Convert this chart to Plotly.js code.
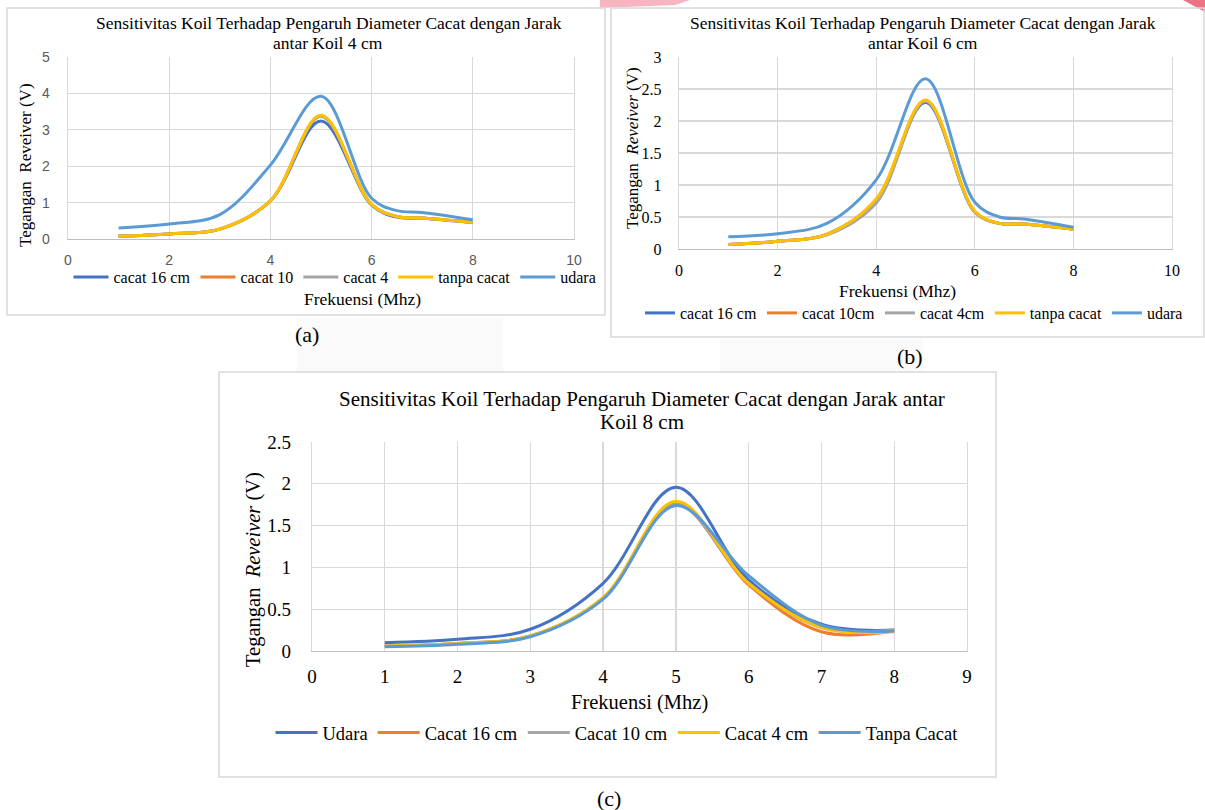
<!DOCTYPE html>
<html><head><meta charset="utf-8">
<script src="https://cdn.plot.ly/plotly-3.0.1.min.js"></script>
<style>html,body{margin:0;padding:0;background:#fff}#chart{width:1205px;height:810px}</style>
</head><body><div id="chart"></div>
<script>
// Frequency points (MHz)
const freq_ab = [1,2,3,4,5,6,6.5,7,8];
const freq_c  = [1,2,3,4,5,6,7,8];

// (a) Jarak antar koil 4 cm
const a_cacat16 = [0.08,0.14,0.27,1.05,3.24,0.93,0.60,0.57,0.45];
const a_cacat10 = [0.08,0.14,0.27,1.05,3.38,0.95,0.62,0.58,0.46];
const a_cacat4  = [0.08,0.14,0.27,1.04,3.37,0.94,0.62,0.58,0.46];
const a_tanpa   = [0.08,0.14,0.27,1.05,3.40,0.95,0.62,0.58,0.46];
const a_udara   = [0.30,0.41,0.67,2.03,3.92,1.12,0.78,0.73,0.53];
const a_names   = ['cacat 16 cm','cacat 10','cacat 4','tanpa cacat','udara'];

// (b) Jarak antar koil 6 cm
const b_cacat16 = [0.07,0.12,0.23,0.76,2.29,0.58,0.40,0.39,0.31];
const b_cacat10 = [0.07,0.12,0.23,0.77,2.32,0.58,0.40,0.39,0.31];
const b_cacat4  = [0.07,0.12,0.22,0.72,2.31,0.58,0.40,0.39,0.31];
const b_tanpa   = [0.07,0.12,0.23,0.78,2.33,0.59,0.40,0.39,0.31];
const b_udara   = [0.19,0.24,0.40,1.08,2.66,0.73,0.50,0.47,0.34];
const b_names   = ['cacat 16 cm','cacat 10cm','cacat 4cm','tanpa cacat','udara'];

// (c) Jarak antar koil 8 cm
const c_udara   = [0.10,0.14,0.26,0.81,1.96,0.85,0.32,0.25];
const c_cacat16 = [0.06,0.09,0.18,0.63,1.76,0.79,0.23,0.24];
const c_cacat10 = [0.06,0.09,0.18,0.63,1.75,0.81,0.28,0.25];
const c_cacat4  = [0.06,0.09,0.18,0.64,1.79,0.81,0.28,0.23];
const c_tanpa   = [0.05,0.08,0.17,0.62,1.74,0.90,0.31,0.24];
const c_names   = ['Udara','Cacat 16 cm','Cacat 10 cm','Cacat 4 cm','Tanpa Cacat'];

const colors = ['#4472C4','#ED7D31','#A5A5A5','#FFC000','#5B9BD5'];

const W = 1205, H = 810;
const X = p => p / W, Y = p => 1 - p / H;
const serif = '"Liberation Serif","Times New Roman",serif';
const sans = '"Liberation Sans",Arial,sans-serif';

function mk(xs, y, name, color, n, leg) {
  return {x: xs, y: y, name: name, type: 'scatter', mode: 'lines',
    line: {color: color, width: 3, shape: 'spline', smoothing: 1},
    xaxis: 'x' + n, yaxis: 'y' + n, legend: leg, hoverinfo: 'skip'};
}
const traces = [];
[a_cacat16,a_cacat10,a_cacat4,a_tanpa,a_udara].forEach((s,i)=>traces.push(mk(freq_ab,s,a_names[i],colors[i],'','legend')));
[b_cacat16,b_cacat10,b_cacat4,b_tanpa,b_udara].forEach((s,i)=>traces.push(mk(freq_ab,s,b_names[i],colors[i],'2','legend2')));
[c_udara,c_cacat16,c_cacat10,c_cacat4,c_tanpa].forEach((s,i)=>traces.push(mk(freq_c,s,c_names[i],colors[i],'3','legend3')));

const grid = '#D9D9D9';
function xax(dom, anchor, range, dtick, font, standoff) {
  return {domain: dom, anchor: anchor, range: range, dtick: dtick, tick0: 0,
    showgrid: true, gridcolor: grid, gridwidth: 1.3, zeroline: false,
    showline: true, linecolor: '#BFBFBF', linewidth: 1.3, ticks: '',
    tickfont: font, ticklabelstandoff: standoff, fixedrange: true};
}
function yax(dom, anchor, range, dtick, font, standoff) {
  return {domain: dom, anchor: anchor, range: range, dtick: dtick, tick0: 0,
    showgrid: true, gridcolor: grid, gridwidth: 1.3, zeroline: false,
    showline: true, mirror: true, linecolor: grid, linewidth: 1.3, ticks: '',
    tickfont: font, ticklabelstandoff: standoff, fixedrange: true};
}

function ann(text, x, y, size, extra) {
  return Object.assign({text: text, x: X(x), y: Y(y), xref: 'paper', yref: 'paper',
    showarrow: false, xanchor: 'center', yanchor: 'middle',
    font: {family: serif, size: size, color: '#000'}}, extra || {});
}

const annotations = [
  // (a)
  ann('Sensitivitas Koil Terhadap Pengaruh Diameter Cacat dengan Jarak', 329, 23, 17.5),
  ann('antar Koil 4 cm', 328, 43, 17.5),
  ann('Tegangan  Reveiver (V)', 25, 165, 17, {textangle: -90}),
  ann('Frekuensi (Mhz)', 362, 299, 17.5),
  ann('(a)', 307, 334, 22),
  // (b)
  ann('Sensitivitas Koil Terhadap Pengaruh Diameter Cacat dengan Jarak', 923, 23, 17.5),
  ann('antar Koil 6 cm', 923, 43, 17.5),
  ann('Tegangan  <i>Reveiver</i> (V)', 633, 148, 17, {textangle: -90}),
  ann('Frekuensi (Mhz)', 897, 291, 17.5),
  ann('(b)', 910, 356, 22),
  // (c)
  ann('Sensitivitas Koil Terhadap Pengaruh Diameter Cacat dengan Jarak antar', 642, 399, 21),
  ann('Koil 8 cm', 642, 422, 21),
  ann('Tegangan  <i>Reveiver</i> (V)', 253, 570, 20.5, {textangle: -90}),
  ann('Frekuensi (Mhz)', 639, 702, 20.5),
  ann('(c)', 609, 798, 22)
];

const shapes = [
  // faint watermark remnants
  {type:'rect', xref:'paper', yref:'paper', x0:X(297), x1:X(503), y0:Y(372), y1:Y(318), line:{width:0}, fillcolor:'#fafafa', layer:'below'},
  {type:'rect', xref:'paper', yref:'paper', x0:X(720), x1:X(923), y0:Y(372), y1:Y(339), line:{width:0}, fillcolor:'#fafafa', layer:'below'},
  {type:'path', xref:'paper', yref:'paper', path:`M ${X(600)} ${Y(0)} L ${X(690)} ${Y(0)} L ${X(675)} ${Y(5)} L ${X(600)} ${Y(8)} Z`, line:{width:0}, fillcolor:'rgba(238,120,140,0.55)', layer:'below'},
  {type:'path', xref:'paper', yref:'paper', path:`M ${X(1183)} ${Y(0)} L ${X(1205)} ${Y(0)} L ${X(1205)} ${Y(12)} Z`, line:{width:0}, fillcolor:'rgba(230,80,100,0.8)', layer:'below'},
  // chart borders
  {type:'rect', xref:'paper', yref:'paper', x0:X(7), x1:X(605), y0:Y(315), y1:Y(8), line:{color:grid, width:1.5}},
  {type:'rect', xref:'paper', yref:'paper', x0:X(611), x1:X(1204), y0:Y(337), y1:Y(8), line:{color:grid, width:1.5}},
  {type:'rect', xref:'paper', yref:'paper', x0:X(219), x1:X(996), y0:Y(777), y1:Y(372), line:{color:grid, width:1.5}}
];

function leg(x, y, size, iw) {
  return {orientation: 'h', x: X(x), y: Y(y), xanchor: 'center', yanchor: 'middle',
    font: {family: serif, size: size, color: '#000'}, bgcolor: 'rgba(0,0,0,0)',
    itemwidth: iw, tracegroupgap: 0};
}

const layout = {
  width: W, height: H, margin: {l: 0, r: 0, t: 0, b: 0},
  paper_bgcolor: '#fff', plot_bgcolor: '#fff', showlegend: true,
  xaxis:  xax([X(68), X(574)], 'y', [0,10], 2, {family: sans, size: 14, color: '#595959'}, 8),
  yaxis:  yax([Y(239), Y(57)], 'x', [0,5], 1, {family: sans, size: 14, color: '#595959'}, 14),
  xaxis2: xax([X(679), X(1172)], 'y2', [0,10], 2, {family: serif, size: 16, color: '#000'}, 6),
  yaxis2: yax([Y(249), Y(57)], 'x2', [0,3], 0.5, {family: serif, size: 16, color: '#000'}, 13),
  xaxis3: xax([X(312), X(967)], 'y3', [0,9], 1, {family: serif, size: 19, color: '#000'}, 8),
  yaxis3: yax([Y(651), Y(442)], 'x3', [0,2.5], 0.5, {family: serif, size: 19, color: '#000'}, 16),
  legend:  leg(335, 277, 16, 35),
  legend2: leg(914, 313, 16, 30),
  legend3: leg(617, 733, 18.5, 42),
  annotations: annotations,
  shapes: shapes
};

Plotly.newPlot('chart', traces, layout, {staticPlot: true, displayModeBar: false});
</script>
</body></html>
